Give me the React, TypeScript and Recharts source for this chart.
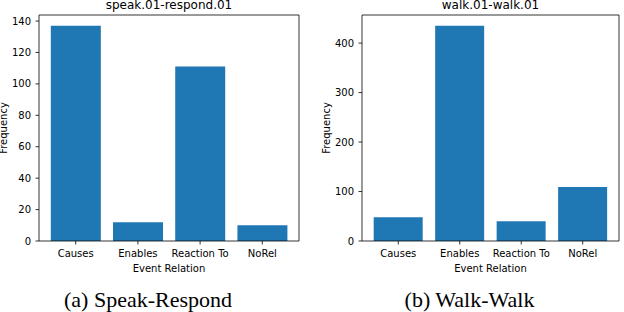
import { Bar, BarChart, CartesianGrid, XAxis, YAxis } from "recharts";

const relations = ["Causes", "Enables", "Reaction To", "NoRel"];
const speakRespond = [137, 12, 111, 10];
const walkWalk = [48, 435, 40, 109];
const speakTicks = [0, 20, 40, 60, 80, 100, 120, 140];
const walkTicks = [0, 100, 200, 300, 400];

// matplotlib "tab:blue"
const BLUE = "#1f77b4";
const SANS = "'DejaVu Sans', sans-serif";
const SERIF = "'Liberation Serif', 'Times New Roman', serif";
const H = 280;
const PLOT_TOP = 15;
const PLOT_BOTTOM = 241;

interface PanelProps {
  left: number;
  title: string;
  caption: string;
  values: number[];
  ticks: number[];
  yAxisWidth: number;
  rightMargin: number;
  yLabelX: number;
}

function Panel({ left, title, caption, values, ticks, yAxisWidth, rightMargin, yLabelX }: PanelProps) {
  const data = relations.map((name, i) => ({ name, value: values[i] }));
  // matplotlib autoscale: 5% headroom above the tallest bar, 0.19 units of margin each side
  const top = Math.max(...values) * 1.05;
  const plotW = 312 - yAxisWidth - rightMargin;
  const pad = (plotW - (4 * plotW) / 4.18) / 2;
  const plotCx = yAxisWidth + plotW / 2;

  const axisText = { fill: "#000", fontSize: 10, fontFamily: SANS };
  const line = { stroke: "#000", strokeWidth: 0.8 };

  return (
    <div style={{ position: "absolute", left, top: 0, width: 312, height: 312 }}>
      <BarChart
        width={312}
        height={H}
        data={data}
        barCategoryGap="10%"
        margin={{ top: PLOT_TOP, right: rightMargin, bottom: 0, left: 0 }}
      >
        {/* top + right spines of the matplotlib frame */}
        <CartesianGrid
          stroke="#000"
          strokeWidth={0.8}
          horizontalCoordinatesGenerator={({ offset }: any) => [offset.top]}
          verticalCoordinatesGenerator={({ offset }: any) => [offset.left + offset.width]}
        />
        <XAxis
          dataKey="name"
          height={H - PLOT_BOTTOM}
          padding={{ left: pad, right: pad }}
          interval={0}
          tick={axisText}
          tickSize={3.5}
          tickMargin={5}
          tickLine={line}
          axisLine={line}
          label={(props: any) => {
            const vb = props.viewBox;
            return (
              <text x={vb.x + vb.width / 2} y={vb.y + 30.5} textAnchor="middle" {...axisText}>
                Event Relation
              </text>
            );
          }}
        />
        <YAxis
          type="number"
          domain={[0, top]}
          ticks={ticks}
          interval={0}
          width={yAxisWidth}
          tick={axisText}
          tickSize={3.5}
          tickMargin={4.5}
          tickLine={line}
          axisLine={line}
          label={(props: any) => {
            const vb = props.viewBox;
            const y = vb.y + vb.height / 2;
            return (
              <text
                x={yLabelX}
                y={y}
                transform={`rotate(-90 ${yLabelX} ${y})`}
                textAnchor="middle"
                {...axisText}
              >
                Frequency
              </text>
            );
          }}
        />
        <Bar dataKey="value" fill={BLUE} isAnimationActive={false} />
      </BarChart>
      <svg width={312} height={312} style={{ position: "absolute", left: 0, top: 0, pointerEvents: "none" }}>
        <text x={plotCx} y={8.5} textAnchor="middle" fontSize={12} fontFamily={SANS} fill="#000">
          {title}
        </text>
        <text x={plotCx - 21} y={306.5} textAnchor="middle" fontSize={22} fontFamily={SERIF} fill="#000">
          {caption}
        </text>
      </svg>
    </div>
  );
}

export default function App() {
  return (
    <div style={{ position: "absolute", left: 0, top: 0, width: 624, height: 312, background: "#fff" }}>
      <Panel
        left={0}
        title="speak.01-respond.01"
        caption="(a) Speak-Respond"
        values={speakRespond}
        ticks={speakTicks}
        yAxisWidth={39}
        rightMargin={13}
        yLabelX={6.5}
      />
      <Panel
        left={312}
        title="walk.01-walk.01"
        caption="(b) Walk-Walk"
        values={walkWalk}
        ticks={walkTicks}
        yAxisWidth={50}
        rightMargin={5}
        yLabelX={18}
      />
    </div>
  );
}
